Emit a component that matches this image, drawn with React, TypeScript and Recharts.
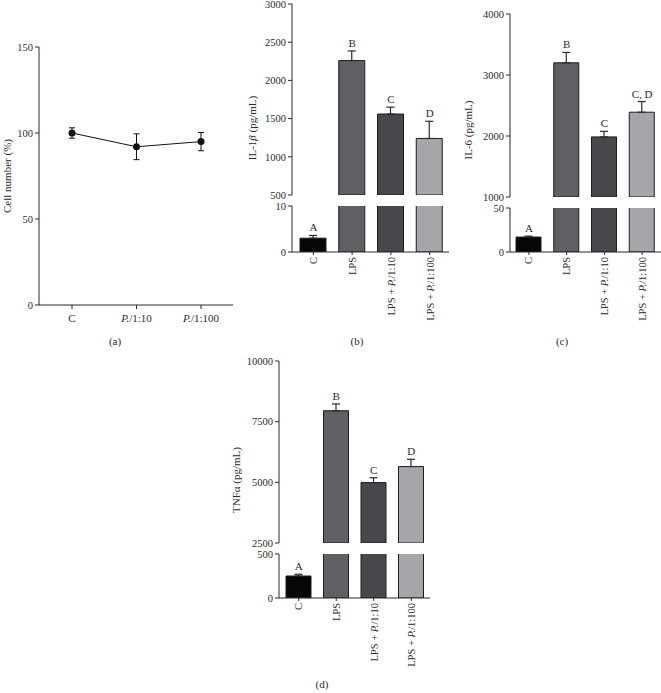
import React from 'react';
import {
    LineChart,
    Line,
    BarChart,
    Bar,
    Cell,
    XAxis,
    YAxis,
    ErrorBar,
    ReferenceDot
} from 'recharts';

// (a) cell viability
const viabilityGroups = ['C', 'P./1:10', 'P./1:100'];
const viabilityMean = [100, 92, 95];
const viabilityErr = [3, 7.5, 5.3];
const viabilityTicks = [0, 50, 100, 150];

// (b)-(d) cytokines
const cytokineGroups = ['C', 'LPS', 'LPS + P./1:10', 'LPS + P./1:100'];
const barColors = ['#060606', '#5f6064', '#46484b', '#a4a6a9'];

const il1bMean = [3, 2260, 1560, 1240];
const il1bErr = [0.6, 125, 90, 225];
const il1bLetters = ['A', 'B', 'C', 'D'];
const il1bUpperTicks = [500, 1000, 1500, 2000, 2500, 3000];
const il1bLowerTicks = [0, 10];

const il6Mean = [17, 3200, 1985, 2390];
const il6Err = [1, 170, 92, 175];
const il6Letters = ['A', 'B', 'C', 'C, D'];
const il6UpperTicks = [1000, 2000, 3000, 4000];
const il6LowerTicks = [0, 50];

const tnfMean = [250, 7950, 4990, 5650];
const tnfErr = [20, 280, 200, 300];
const tnfLetters = ['A', 'B', 'C', 'D'];
const tnfUpperTicks = [2500, 5000, 7500, 10000];
const tnfLowerTicks = [0, 500];

const FONT = '"Liberation Serif", "DejaVu Serif", serif';
const INK = '#2b2b2b';
const tickStyle = { fontSize: 10.5, fontFamily: FONT, fill: INK };

function labelParts(label: string) {
    const i = label.indexOf('P.');
    if (i < 0) return label;
    return (
        <>
            {i > 0 && <tspan>{label.slice(0, i)}</tspan>}
            <tspan fontStyle="italic">P.</tspan>
            <tspan>{label.slice(i + 2)}</tspan>
        </>
    );
}

function FlatTick({ x, y, payload }: any) {
    return (
        <text x={x} y={y} dy="0.71em" textAnchor="middle" fontSize={11} fontFamily={FONT} fill={INK}>
            {labelParts(payload.value)}
        </text>
    );
}

function RotatedTick({ x, y, payload }: any) {
    return (
        <text
            transform={`translate(${x},${y}) rotate(-90)`}
            textAnchor="end"
            dominantBaseline="central"
            fontSize={10.5}
            fontFamily={FONT}
            fill={INK}
        >
            {labelParts(payload.value)}
        </text>
    );
}

interface Section {
    top: number;
    height: number;
    marginTop: number;
    marginBottom: number;
    ticks: number[];
}

interface PanelProps {
    left: number;
    width: number;
    axisWidth: number;
    rightMargin: number;
    padLeft: number;
    barSize: number;
    upper: Section;
    lower: Section;
    means: number[];
    errs: number[];
    letters: string[];
}

function BrokenBarPanel(p: PanelProps) {
    const upperMin = p.upper.ticks[0];
    const lowerMax = p.lower.ticks[p.lower.ticks.length - 1];
    const upperDomain = [upperMin, p.upper.ticks[p.upper.ticks.length - 1]];
    const lowerDomain = [0, lowerMax];

    const upperRows = cytokineGroups.map((name, i) => {
        const show = p.means[i] >= upperMin;
        return { name, value: show ? p.means[i] : null, err: show ? [0, p.errs[i]] : null };
    });
    const lowerRows = cytokineGroups.map((name, i) => ({
        name,
        value: p.means[i],
        err: p.means[i] <= lowerMax ? [0, p.errs[i]] : null
    }));

    const letterDots = (inUpper: boolean) =>
        cytokineGroups.map((name, i) => {
            if ((p.means[i] >= upperMin) !== inUpper) return null;
            return (
                <ReferenceDot
                    key={name}
                    x={name}
                    y={p.means[i] + p.errs[i]}
                    r={0}
                    stroke="none"
                    ifOverflow="visible"
                    label={{ value: p.letters[i], position: 'top', offset: 4, fill: INK, fontSize: 11, fontFamily: FONT }}
                />
            );
        });

    const bars = (
        <Bar dataKey="value" barSize={p.barSize} stroke="#1c1c1c" strokeWidth={1} isAnimationActive={false}>
            {cytokineGroups.map((g, i) => (
                <Cell key={g} fill={barColors[i]} />
            ))}
            <ErrorBar dataKey="err" width={4} stroke={INK} strokeWidth={1.2} direction="y" />
        </Bar>
    );

    const yAxisProps = {
        width: p.axisWidth,
        type: 'number' as const,
        allowDataOverflow: true,
        interval: 0 as const,
        tickSize: 4,
        tickMargin: 2,
        tick: tickStyle,
        axisLine: { stroke: INK },
        tickLine: { stroke: INK }
    };

    return (
        <>
            <div style={{ position: 'absolute', left: p.left, top: p.upper.top }}>
                <BarChart
                    width={p.width}
                    height={p.upper.height}
                    data={upperRows}
                    margin={{ top: p.upper.marginTop, right: p.rightMargin, bottom: p.upper.marginBottom, left: 0 }}
                >
                    <XAxis dataKey="name" hide padding={{ left: p.padLeft, right: 0 }} />
                    <YAxis {...yAxisProps} domain={upperDomain} ticks={p.upper.ticks} />
                    {bars}
                    {letterDots(true)}
                </BarChart>
            </div>
            <div style={{ position: 'absolute', left: p.left, top: p.lower.top }}>
                <BarChart
                    width={p.width}
                    height={p.lower.height}
                    data={lowerRows}
                    margin={{ top: p.lower.marginTop, right: p.rightMargin, bottom: 0, left: 0 }}
                >
                    <XAxis
                        dataKey="name"
                        height={p.lower.marginBottom}
                        padding={{ left: p.padLeft, right: 0 }}
                        interval={0}
                        tickSize={3}
                        tickMargin={2}
                        tick={<RotatedTick />}
                        axisLine={{ stroke: INK }}
                        tickLine={{ stroke: INK }}
                    />
                    <YAxis {...yAxisProps} domain={lowerDomain} ticks={p.lower.ticks} />
                    {bars}
                    {letterDots(false)}
                </BarChart>
            </div>
        </>
    );
}

export default function App() {
    const viabilityRows = viabilityGroups.map((name, i) => ({
        name,
        value: viabilityMean[i],
        err: viabilityErr[i]
    }));

    return (
        <div style={{ position: 'absolute', left: 0, top: 0, width: 661, height: 693, background: '#fff', overflow: 'hidden' }}>
            {/* (a) */}
            <div style={{ position: 'absolute', left: 0, top: 0 }}>
                <LineChart width={240} height={330} data={viabilityRows} margin={{ top: 47, right: 7, bottom: 0, left: 0 }}>
                    <XAxis
                        dataKey="name"
                        scale="point"
                        padding={{ left: 33, right: 32 }}
                        height={25}
                        interval={0}
                        tickSize={4}
                        tickMargin={5}
                        tick={<FlatTick />}
                        axisLine={{ stroke: INK }}
                        tickLine={{ stroke: INK }}
                    />
                    <YAxis
                        width={39}
                        type="number"
                        domain={[0, 150]}
                        ticks={viabilityTicks}
                        interval={0}
                        tickSize={4}
                        tickMargin={2}
                        tick={tickStyle}
                        axisLine={{ stroke: INK }}
                        tickLine={{ stroke: INK }}
                    />
                    <Line
                        type="linear"
                        dataKey="value"
                        stroke="#111"
                        strokeWidth={1}
                        dot={{ r: 3.5, fill: '#111', stroke: '#111', strokeWidth: 0 }}
                        isAnimationActive={false}
                    >
                        <ErrorBar dataKey="err" width={3} stroke="#111" strokeWidth={1} direction="y" />
                    </Line>
                </LineChart>
            </div>

            {/* (b) IL-1β */}
            <BrokenBarPanel
                left={220}
                width={240}
                axisWidth={72}
                rightMargin={11}
                padLeft={2}
                barSize={26}
                upper={{ top: 0, height: 210, marginTop: 4, marginBottom: 15, ticks: il1bUpperTicks }}
                lower={{ top: 200, height: 140, marginTop: 6, marginBottom: 88, ticks: il1bLowerTicks }}
                means={il1bMean}
                errs={il1bErr}
                letters={il1bLetters}
            />

            {/* (c) IL-6 */}
            <BrokenBarPanel
                left={440}
                width={221}
                axisWidth={70}
                rightMargin={0}
                padLeft={0}
                barSize={25}
                upper={{ top: 0, height: 210, marginTop: 14, marginBottom: 13, ticks: il6UpperTicks }}
                lower={{ top: 200, height: 140, marginTop: 8, marginBottom: 88, ticks: il6LowerTicks }}
                means={il6Mean}
                errs={il6Err}
                letters={il6Letters}
            />

            {/* (d) TNFα */}
            <BrokenBarPanel
                left={200}
                width={240}
                axisWidth={79}
                rightMargin={10}
                padLeft={1}
                barSize={25}
                upper={{ top: 355, height: 205, marginTop: 6, marginBottom: 17, ticks: tnfUpperTicks }}
                lower={{ top: 545, height: 148, marginTop: 9, marginBottom: 95, ticks: tnfLowerTicks }}
                means={tnfMean}
                errs={tnfErr}
                letters={tnfLetters}
            />

            {/* axis titles and panel captions */}
            <svg width={661} height={693} style={{ position: 'absolute', left: 0, top: 0, pointerEvents: 'none' }}>
                <g fontFamily={FONT} fontSize={11} fill={INK}>
                    <text transform="translate(7,176) rotate(-90)" textAnchor="middle" dominantBaseline="central">
                        Cell number (%)
                    </text>
                    <text transform="translate(252,128) rotate(-90)" textAnchor="middle" dominantBaseline="central">
                        IL-1<tspan fontStyle="italic">β</tspan> (pg/mL)
                    </text>
                    <text transform="translate(468,130) rotate(-90)" textAnchor="middle" dominantBaseline="central">
                        IL-6 (pg/mL)
                    </text>
                    <text transform="translate(236,480) rotate(-90)" textAnchor="middle" dominantBaseline="central">
                        TNFα (pg/mL)
                    </text>
                    <text x={115} y={341} textAnchor="middle" dominantBaseline="central">(a)</text>
                    <text x={357} y={341} textAnchor="middle" dominantBaseline="central">(b)</text>
                    <text x={562} y={341} textAnchor="middle" dominantBaseline="central">(c)</text>
                    <text x={322} y={684} textAnchor="middle" dominantBaseline="central">(d)</text>
                </g>
            </svg>
        </div>
    );
}
